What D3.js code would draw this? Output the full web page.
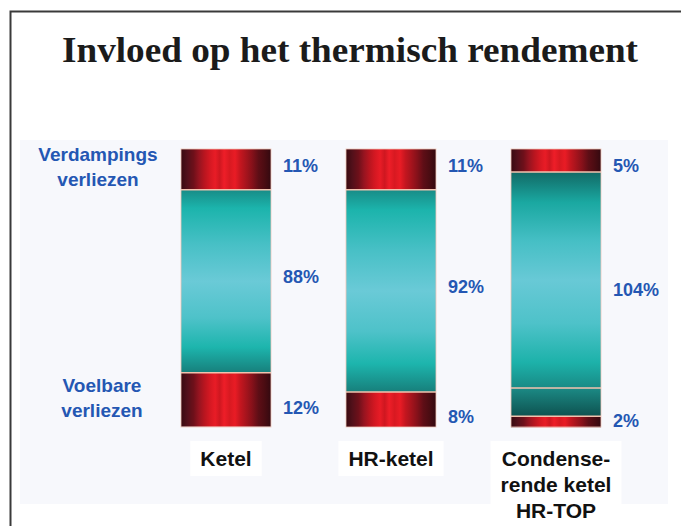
<!DOCTYPE html>
<html>
<head>
<meta charset="utf-8">
<script src="https://cdn.jsdelivr.net/npm/d3@7"></script>
<style>
  body { margin: 0; background: #fff; }
  svg { display: block; }
</style>
</head>
<body>
<svg id="chart" width="681" height="526"></svg>
<script>
// ----- data -----
const categories = ["Ketel", "HR-ketel", "HR-TOP"];
const categoryLines = [["Ketel"], ["HR-ketel"], ["Condense-", "rende ketel", "HR-TOP"]];
const verdampingsVerlies = [11, 11, 5];   // % boven
const nuttig = [88, 92, 104];             // % midden
const voelbaarVerlies = [12, 8, 2];       // % onder
// hoogte van elk segment zoals getekend (aandeel van de balk, %)
const shownTop = [14.7, 14.7, 8.3];
const shownUseful = [65.8, 72.7, 77.7];
const shownCondens = [0, 0, 10.1];
const shownBottom = [19.4, 12.6, 4.0];
const sideLabels = [["Verdampings", "verliezen"], ["Voelbare", "verliezen"]];
const title = "Invloed op het thermisch rendement";

const svg = d3.select("#chart");
const blue = "#2457b3";

// kader
svg.append("path")
  .attr("d", "M10.5,526V11.5H681")
  .attr("fill", "none").attr("stroke", "#3a3a3a").attr("stroke-width", 2);

svg.append("text")
  .attr("x", 350).attr("y", 62)
  .attr("text-anchor", "middle")
  .attr("textLength", 576).attr("lengthAdjust", "spacingAndGlyphs")
  .style("font-family", "'Liberation Serif', 'Times New Roman', serif")
  .style("font-weight", "bold").style("font-size", "35px")
  .attr("fill", "#1b1b1b")
  .text(title);

// lichte achtergrond
svg.append("rect")
  .attr("x", 20).attr("y", 140).attr("width", 648).attr("height", 364)
  .attr("fill", "#f7f8fc");

// ----- gradients -----
const defs = svg.append("defs");
const red = defs.append("linearGradient").attr("id", "red")
  .attr("x1", 0).attr("x2", 1).attr("y1", 0).attr("y2", 0);
[[0, "#380a10"], [0.07, "#52101a"], [0.14, "#6e101a"], [0.2, "#961420"], [0.26, "#b8151f"],
 [0.32, "#d41822"], [0.38, "#e81c26"], [0.43, "#cf1720"], [0.48, "#ee1e28"], [0.54, "#d81921"],
 [0.6, "#e91c25"], [0.66, "#c4161f"], [0.72, "#a8141d"], [0.79, "#86111a"], [0.86, "#5e0e16"],
 [0.93, "#4a0c12"], [1, "#330910"]]
  .forEach(([o, c]) => red.append("stop").attr("offset", o).attr("stop-color", c));

const teal = defs.append("linearGradient").attr("id", "teal")
  .attr("x1", 0).attr("x2", 0).attr("y1", 0).attr("y2", 1);
[[0, "#188c87"], [0.1, "#1cb4ac"], [0.3, "#48c0c6"], [0.5, "#6acad7"], [0.7, "#4ec2c9"],
 [0.86, "#1db5ad"], [1, "#177f7b"]]
  .forEach(([o, c]) => teal.append("stop").attr("offset", o).attr("stop-color", c));

const tealDark = defs.append("linearGradient").attr("id", "tealTop")
  .attr("x1", 0).attr("x2", 0).attr("y1", 0).attr("y2", 1);
[[0, "#126a66"], [0.14, "#1aa8a1"], [0.32, "#46bfc5"], [0.5, "#68c9d6"], [0.7, "#4ec2c9"],
 [0.88, "#1db2aa"], [1, "#188a85"]]
  .forEach(([o, c]) => tealDark.append("stop").attr("offset", o).attr("stop-color", c));

const cond = defs.append("linearGradient").attr("id", "cond")
  .attr("x1", 0).attr("x2", 0).attr("y1", 0).attr("y2", 1);
[[0, "#1c8a85"], [1, "#0e5250"]]
  .forEach(([o, c]) => cond.append("stop").attr("offset", o).attr("stop-color", c));

// ----- scales -----
const x = d3.scaleBand().domain(categories).range([181, 601]).paddingInner(75 / 165).paddingOuter(0);
const y = d3.scaleLinear().domain([0, 100]).range([149, 427]);

const bars = categories.map((c, i) => {
  const segs = [
    { key: "top", v: shownTop[i], fill: "url(#red)" },
    { key: "useful", v: shownUseful[i], fill: i === 2 ? "url(#tealTop)" : "url(#teal)" },
    { key: "cond", v: shownCondens[i], fill: "url(#cond)" },
    { key: "bottom", v: shownBottom[i], fill: "url(#red)" }
  ];
  let acc = 0;
  segs.forEach(s => { s.y0 = acc; acc += s.v; s.y1 = acc; s.cat = c; s.i = i; });
  return segs.filter(s => s.v > 0);
});

const gBars = svg.append("g");
bars.forEach(segs => {
  gBars.selectAll(null)
    .data(segs)
    .enter().append("rect")
    .attr("x", d => x(d.cat))
    .attr("width", x.bandwidth())
    .attr("y", d => y(d.y0))
    .attr("height", d => y(d.y1) - y(d.y0))
    .attr("fill", d => d.fill);
  // scheidingslijnen
  gBars.selectAll(null)
    .data(segs.slice(1))
    .enter().append("line")
    .attr("x1", d => x(d.cat)).attr("x2", d => x(d.cat) + x.bandwidth())
    .attr("y1", d => y(d.y0)).attr("y2", d => y(d.y0))
    .attr("stroke", "#f2c2ae").attr("stroke-width", 1.5);
  // rand
  gBars.append("rect")
    .attr("x", x(segs[0].cat)).attr("y", y(0))
    .attr("width", x.bandwidth()).attr("height", y(100) - y(0))
    .attr("fill", "none").attr("stroke", "#f0c6b8").attr("stroke-width", 0.8);
});

// ----- percentage labels -----
const pctFont = g => g.style("font-family", "'Liberation Sans', Arial, sans-serif")
  .style("font-weight", "bold").style("font-size", "18px").attr("fill", blue);

const pctLabels = [];
categories.forEach((c, i) => {
  const lx = x(c) + x.bandwidth() + 12;
  pctLabels.push({ x: lx, y: y(0) + 23, t: verdampingsVerlies[i] + "%" });
  const midC = (y(shownTop[i]) + y(shownTop[i] + shownUseful[i] + shownCondens[i])) / 2;
  pctLabels.push({ x: lx, y: midC + 2, t: nuttig[i] + "%" });
  const b0 = y(100 - shownBottom[i]);
  pctLabels.push({ x: lx, y: Math.min((b0 + y(100)) / 2 + 14, y(100)), t: voelbaarVerlies[i] + "%" });
});
svg.append("g").selectAll("text")
  .data(pctLabels)
  .enter().append("text")
  .attr("x", d => d.x).attr("y", d => d.y)
  .call(pctFont)
  .text(d => d.t);

// ----- side labels -----
const topC = (y(0) + y(shownTop[0])) / 2;
const botC = (y(100 - shownBottom[0]) + y(100)) / 2;
[[topC, 98], [botC, 102]].forEach(([cy, cx], k) => {
  svg.append("text")
    .attr("text-anchor", "middle")
    .call(pctFont)
    .style("font-size", "19px")
    .selectAll("tspan")
    .data(sideLabels[k])
    .enter().append("tspan")
    .attr("x", cx)
    .attr("y", (d, j) => cy - 8 + j * 25)
    .text(d => d);
});

// ----- category labels -----
categories.forEach((c, i) => {
  const g = svg.append("g");
  const bg = g.append("rect").attr("fill", "#ffffff");
  const t = g.append("text")
    .attr("text-anchor", "middle")
    .style("font-family", "'Liberation Sans', Arial, sans-serif")
    .style("font-weight", "bold").style("font-size", "21px")
    .attr("fill", "#111");
  t.selectAll("tspan")
    .data(categoryLines[i])
    .enter().append("tspan")
    .attr("x", x(c) + x.bandwidth() / 2)
    .attr("y", (d, j) => 466 + j * 26)
    .text(d => d);
  const bb = t.node().getBBox();
  bg.attr("x", bb.x - 10).attr("y", bb.y - 6)
    .attr("width", bb.width + 20).attr("height", bb.height + 12);
});
</script>
</body>
</html>
